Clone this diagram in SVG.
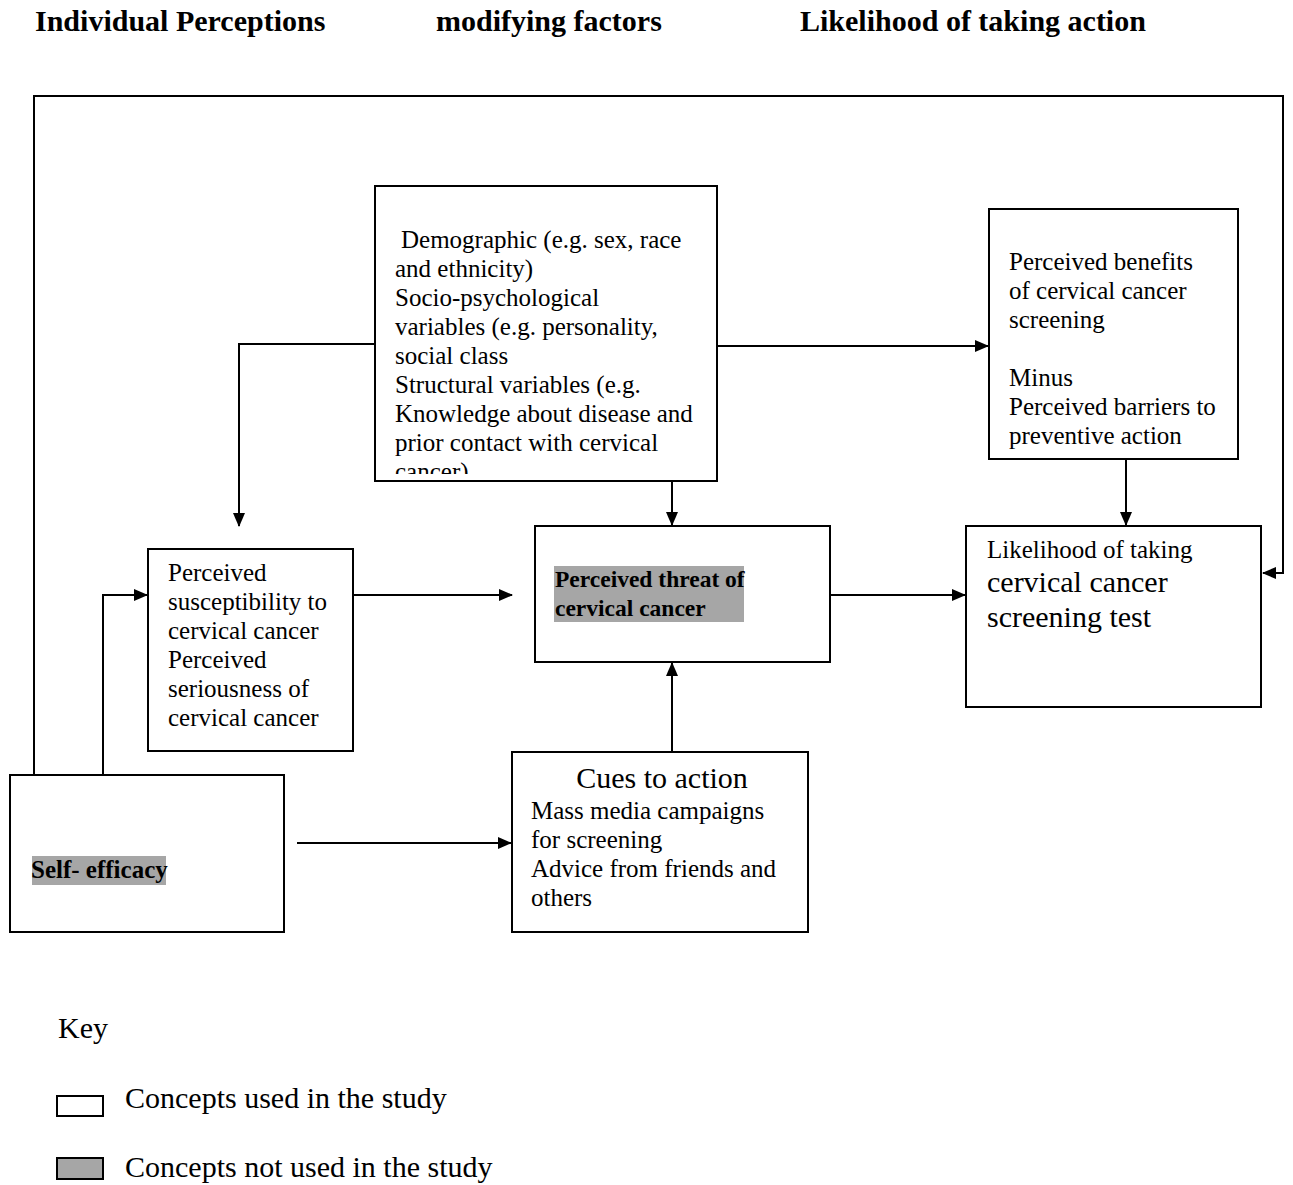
<svg xmlns="http://www.w3.org/2000/svg" width="1293" height="1185" viewBox="0 0 1293 1185">
<style>
.box{fill:#fff;stroke:#000;stroke-width:2}
.t{font-family:"Liberation Serif","Times New Roman",serif;font-size:25px;fill:#000}
.h{font-family:"Liberation Serif","Times New Roman",serif;font-size:30px;font-weight:bold;fill:#000}
.big{font-size:30px}
.b{font-weight:bold}
.hl{fill:#a6a6a6}
.c{fill:none;stroke:#000;stroke-width:2}
</style>
<defs>
<marker id="a" markerWidth="14" markerHeight="12" refX="13" refY="6" orient="auto" markerUnits="userSpaceOnUse">
<path d="M0,0 L14,6 L0,12 Z" fill="#000"/>
</marker>
<clipPath id="clipDemo"><rect x="375" y="186" width="342" height="288"/></clipPath>
</defs>
<rect width="1293" height="1185" fill="#fff"/>

<g id="headers">
<text class="h" x="35" y="31">Individual Perceptions</text>
<text class="h" x="436" y="31">modifying factors</text>
<text class="h" x="800" y="31">Likelihood of taking action</text>
</g>

<g id="connectors">
<polyline class="c" points="34,775 34,96 1283,96 1283,573 1263,573" marker-end="url(#a)"/>
<polyline class="c" points="375,344 239,344 239,526" marker-end="url(#a)"/>
<line class="c" x1="717" y1="346" x2="988" y2="346" marker-end="url(#a)"/>
<line class="c" x1="672" y1="481" x2="672" y2="525" marker-end="url(#a)"/>
<line class="c" x1="1126" y1="459" x2="1126" y2="525" marker-end="url(#a)"/>
<line class="c" x1="353" y1="595" x2="512" y2="595" marker-end="url(#a)"/>
<line class="c" x1="830" y1="595" x2="965" y2="595" marker-end="url(#a)"/>
<line class="c" x1="672" y1="752" x2="672" y2="663" marker-end="url(#a)"/>
<line class="c" x1="297" y1="843" x2="511" y2="843" marker-end="url(#a)"/>
<polyline class="c" points="103,775 103,595 147,595" marker-end="url(#a)"/>
</g>

<g id="demographic">
<rect class="box" x="375" y="186" width="342" height="295"/>
<g clip-path="url(#clipDemo)">
<text class="t" x="401" y="248">Demographic (e.g. sex, race</text>
<text class="t" x="395" y="277">and ethnicity)</text>
<text class="t" x="395" y="306">Socio-psychological</text>
<text class="t" x="395" y="335">variables (e.g. personality,</text>
<text class="t" x="395" y="364">social class</text>
<text class="t" x="395" y="393">Structural variables (e.g.</text>
<text class="t" x="395" y="422">Knowledge about disease and</text>
<text class="t" x="395" y="451">prior contact with cervical</text>
<text class="t" x="395" y="480">cancer)</text>
</g>
</g>

<g id="benefits">
<rect class="box" x="989" y="209" width="249" height="250"/>
<text class="t" x="1009" y="270">Perceived benefits</text>
<text class="t" x="1009" y="299">of cervical cancer</text>
<text class="t" x="1009" y="328">screening</text>
<text class="t" x="1009" y="386">Minus</text>
<text class="t" x="1009" y="415">Perceived barriers to</text>
<text class="t" x="1009" y="444">preventive action</text>
</g>

<g id="likelihood">
<rect class="box" x="966" y="526" width="295" height="181"/>
<text class="t" x="987" y="558">Likelihood of taking</text>
<text class="t big" x="987" y="592">cervical cancer</text>
<text class="t big" x="987" y="627">screening test</text>
</g>

<g id="threat">
<rect class="box" x="535" y="526" width="295" height="136"/>
<rect class="hl" x="554" y="566" width="190" height="56"/>
<text class="t b" x="555" y="587" style="font-size:23.5px">Perceived threat of</text>
<text class="t b" x="555" y="616" style="font-size:23.5px">cervical cancer</text>
</g>

<g id="susceptibility">
<rect class="box" x="148" y="549" width="205" height="202"/>
<text class="t" x="168" y="581">Perceived</text>
<text class="t" x="168" y="610">susceptibility to</text>
<text class="t" x="168" y="639">cervical cancer</text>
<text class="t" x="168" y="668">Perceived</text>
<text class="t" x="168" y="697">seriousness of</text>
<text class="t" x="168" y="726">cervical cancer</text>
</g>

<g id="cues">
<rect class="box" x="512" y="752" width="296" height="180"/>
<text class="t big" x="662" y="788" text-anchor="middle">Cues to action</text>
<text class="t" x="531" y="819">Mass media campaigns</text>
<text class="t" x="531" y="848">for screening</text>
<text class="t" x="531" y="877">Advice from friends and</text>
<text class="t" x="531" y="906">others</text>
</g>

<g id="selfefficacy">
<rect class="box" x="10" y="775" width="274" height="157"/>
<rect class="hl" x="32" y="856" width="134" height="29"/>
<text class="t b" x="31" y="878">Self- efficacy</text>
</g>

<g id="key">
<text class="t big" x="58" y="1038">Key</text>
<rect class="box" x="57" y="1096" width="46" height="20"/>
<text class="t big" x="125" y="1108">Concepts used in the study</text>
<rect x="57" y="1158" width="46" height="21" fill="#a6a6a6" stroke="#000" stroke-width="2"/>
<text class="t big" x="125" y="1177">Concepts not used in the study</text>
</g>
</svg>
